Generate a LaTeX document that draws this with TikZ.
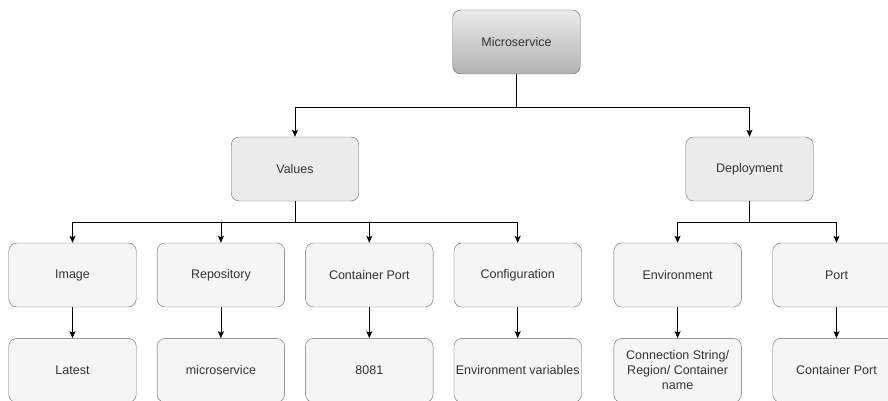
\documentclass[tikz,border=0pt]{standalone}
\usepackage{fontspec}
\setmainfont{Liberation Sans}
\usepackage{xcolor}
\usetikzlibrary{arrows.meta,positioning,shapes}

\definecolor{boxline}{HTML}{666666}
\definecolor{boxtext}{HTML}{333333}
\definecolor{boxfill}{HTML}{F5F5F5}
\definecolor{headfill}{HTML}{EBEBEB}

\begin{document}
\begin{tikzpicture}[x=1pt,y=-1pt,
    box/.style={rectangle,rounded corners=8pt,draw=boxline,fill=boxfill,text=boxtext,
      minimum width=127.5pt,minimum height=64pt,font=\fontsize{12.5}{15}\selectfont,align=center},
    head/.style={box,fill=headfill},
    link/.style={-{Stealth[length=7pt,width=6pt,inset=1.5pt]},black,line width=0.8pt}]
    \useasboundingbox (0,0) rectangle (888,401);

    \node[box,top color=white!92!black,bottom color=black!30] (micro) at (516.5,42) {Microservice};
    \node[head] (values) at (295,169) {Values};
    \node[head] (deploy) at (749.5,169) {Deployment};

    \node[box] (image) at (72.5,275) {Image};
    \node[box,right=20.5pt of image] (repo) {Repository};
    \node[box,right=20.5pt of repo] (cport) {Container Port};
    \node[box,right=20.5pt of cport] (config) {Configuration};
    \node[box,right=32pt of config] (env) {Environment};
    \node[box,right=31pt of env] (port) {Port};

    \node[box,below=31pt of image] (latest) {Latest};
    \node[box,below=31pt of repo] (reponame) {microservice};
    \node[box,below=31pt of cport] (portnum) {8081};
    \node[box,below=31pt of config,inner sep=0pt] (envvars) {Environment variables};
    \node[box,below=31pt of env] (connstr) {Connection String/\\Region/ Container\\name};
    \node[box,below=31pt of port] (portval) {Container Port};

    \draw[link] (micro.south) -- ++(0,33) -| (values.north);
    \draw[link] (micro.south) -- ++(0,33) -| (deploy.north);

    \foreach \child in {image,repo,cport,config}
      \draw[link] (values.south) -- ++(0,21) -| (\child.north);
    \foreach \child in {env,port}
      \draw[link] (deploy.south) -- ++(0,21) -| (\child.north);

    \draw[link] (image) -- (latest);
    \draw[link] (repo) -- (reponame);
    \draw[link] (cport) -- (portnum);
    \draw[link] (config) -- (envvars);
    \draw[link] (env) -- (connstr);
    \draw[link] (port) -- (portval);
  \end{tikzpicture}
\end{document}
